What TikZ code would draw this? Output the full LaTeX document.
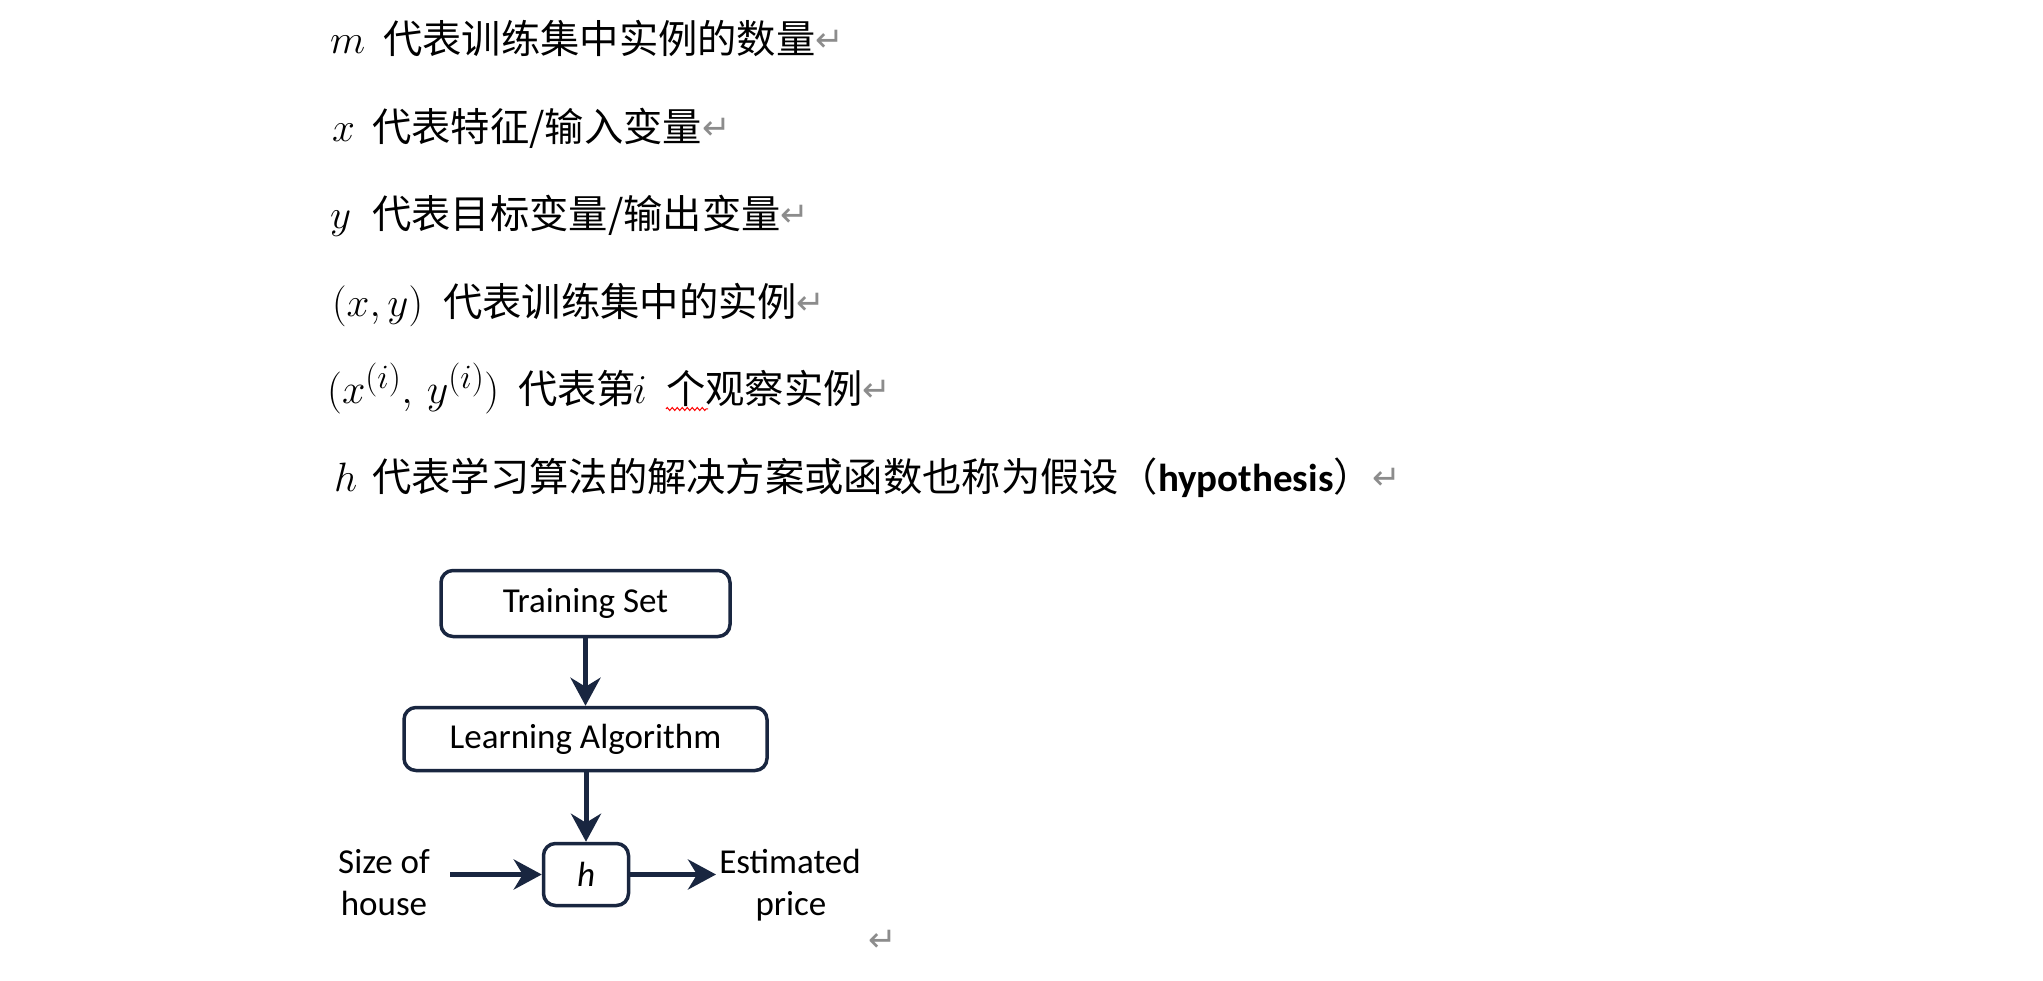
\RequirePackage{fix-cm}
\documentclass[tikz,border=0pt]{standalone}
\usepackage{fontspec}
\setmainfont{Carlito}
\newfontfamily\cjk{Noto Sans CJK SC}
\newfontfamily\dejavu{DejaVu Sans}
\newfontfamily\calibri{Carlito}
\usetikzlibrary{arrows.meta,decorations.pathmorphing}
\definecolor{navy}{RGB}{25,38,64}
\definecolor{retgray}{RGB}{140,140,140}
\DeclareMathSizes{41}{41}{31}{23}
\DeclareMathSizes{42}{42}{34}{24}
\newcommand\retmark{\raisebox{2pt}{\dejavu\fontsize{34}{34}\selectfont\textcolor{retgray}{↵}}}
\begin{document}
\begin{tikzpicture}[x=1pt,y=-1pt,
  cjktext/.style={anchor=base west, inner sep=0pt, font=\cjk\fontsize{39.3}{39.3}\selectfont},
  mathtext/.style={anchor=base west, inner sep=0pt, font=\fontsize{41}{41}\selectfont},
  flowbox/.style={draw=navy, line width=3.5pt, rounded corners=12pt, inner sep=0pt, font=\calibri\fontsize{35}{35}\selectfont},
  flowarrow/.style={draw=navy, line width=5pt, -{Stealth[length=28pt,width=30pt,inset=9pt]}},
  sidetext/.style={anchor=base, inner sep=0pt, font=\calibri\fontsize{35}{35}\selectfont}]
\useasboundingbox[fill=white] (0,0) rectangle (2043,981);

% definition lines
\node[mathtext] (m1) at (330,54) {$m$};
\node[cjktext] (t1) at (383,54) {代表训练集中实例的数量\retmark};

\node[mathtext] (m2) at (332,141.4) {$x$};
\node[cjktext] (t2) at (372,141.4) {代表特征/输入变量\retmark};

\node[mathtext] (m3) at (330,228.8) {$y$};
\node[cjktext] (t3) at (372,228.8) {代表目标变量/输出变量\retmark};

\node[mathtext] (m4) at (332,316.2) {$(x,y)$};
\node[cjktext] (t4) at (443,316.2) {代表训练集中的实例\retmark};

\node[mathtext, font=\fontsize{42}{42}\selectfont] (m5) at (327,403.6) {$(x^{(i)},\,y^{(i)})$};
\node[cjktext] (t5a) at (518,403.6) {代表第};
\node[mathtext] (m5i) at (633,403.6) {$i$};
\node[cjktext] (t5b) at (666,403.6) {个观察实例\retmark};
\draw[red, line width=1pt, decorate, decoration={zigzag, segment length=5pt, amplitude=1.5pt}] (666,409) -- (708,409);

\node[mathtext] (m6) at (334,491) {$h$};
\node[cjktext] (t6) at (372,491) {代表学习算法的解决方案或函数也称为假设（{\calibri\bfseries\fontsize{39}{39}\selectfont hypothesis}）\retmark};

% diagram
\node[flowbox, minimum width=289pt, minimum height=66pt] (ts) at (585.5,603.5) {Training Set};
\node[flowbox, minimum width=363pt, minimum height=63pt] (la) at (585.5,739) {Learning Algorithm};
\node[flowbox, minimum width=85pt, minimum height=62pt] (h) at (586,874.5) {\itshape h};

\draw[flowarrow] (ts) -- (la);
\draw[flowarrow] (la.south -| h.north) -- (h.north);

\coordinate (in) at (450,874.5);
\coordinate (out) at (716,874.5);
\draw[flowarrow] (in) -- (h.west);
\draw[flowarrow] (h.east) -- (out);

\node[sidetext] (s1) at (384,873) {Size of};
\node[sidetext] (s2) at (384,915) {house};
\node[sidetext] (e1) at (790,873) {Estimated};
\node[sidetext] (e2) at (791,915) {price};

\node[anchor=base west, inner sep=0pt] (ret) at (868,953) {\retmark};
\end{tikzpicture}
\end{document}
